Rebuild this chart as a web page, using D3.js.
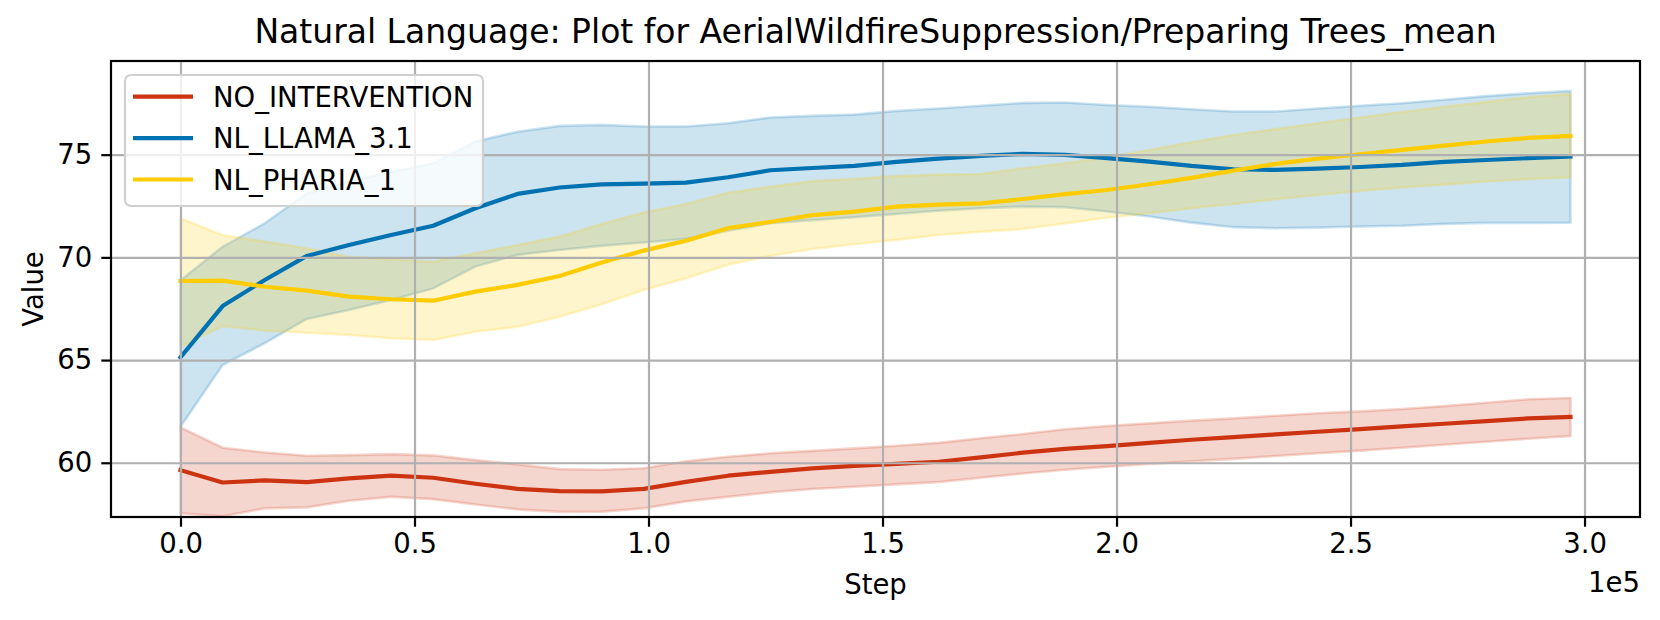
<!DOCTYPE html>
<html>
<head>
<meta charset="utf-8">
<script src="https://cdn.jsdelivr.net/npm/d3@7"></script>
<style>
  body { margin: 0; background: #fff; }
  text { font-family: "DejaVu Sans", sans-serif; fill: #000; }
</style>
</head>
<body>
<div class="canvas"></div>
<script>
// data
const steps = [0, 9000, 18000, 27000, 36000, 45000, 54000, 63000, 72000, 81000, 90000,
  99000, 108000, 117000, 126000, 135000, 144000, 153000, 162000, 171000, 180000,
  189000, 198000, 207000, 216000, 225000, 234000, 243000, 252000, 261000, 270000,
  279000, 288000, 297000]

const seriesNames = ['NO_INTERVENTION', 'NL_LLAMA_3.1', 'NL_PHARIA_1']
const seriesColors = ['#cc3311', '#0072b2', '#ffcc00']

const noIntMean = [59.64, 59.04, 59.14, 59.06, 59.24, 59.37, 59.27, 58.98, 58.73, 58.62, 58.61,
  58.73, 59.07, 59.37, 59.56, 59.73, 59.85, 59.95, 60.05, 60.26, 60.49,
  60.68, 60.81, 60.97, 61.12, 61.25, 61.38, 61.51, 61.64, 61.77, 61.90, 62.03, 62.16, 62.23]
const noIntUpper = [61.72, 60.73, 60.50, 60.34, 60.37, 60.42, 60.36, 60.13, 59.92, 59.69, 59.66,
  59.73, 60.07, 60.29, 60.46, 60.58, 60.70, 60.83, 60.97, 61.19, 61.40,
  61.63, 61.79, 61.92, 62.05, 62.16, 62.29, 62.41, 62.50, 62.62, 62.76, 62.92, 63.09, 63.15]
const noIntLower = [57.54, 57.40, 57.78, 57.83, 58.15, 58.34, 58.23, 57.97, 57.73, 57.61, 57.62,
  57.78, 58.12, 58.34, 58.56, 58.72, 58.83, 58.95, 59.06, 59.27, 59.48,
  59.66, 59.81, 59.94, 60.07, 60.19, 60.33, 60.46, 60.59, 60.73, 60.88, 61.02, 61.17, 61.30]

const llamaMean = [65.13, 67.63, 68.90, 70.07, 70.60, 71.09, 71.54, 72.39, 73.09, 73.40, 73.55,
  73.59, 73.64, 73.90, 74.24, 74.35, 74.45, 74.65, 74.81, 74.94, 75.04,
  74.99, 74.83, 74.66, 74.45, 74.29, 74.26, 74.32, 74.40, 74.50, 74.65, 74.74, 74.83, 74.91]
const llamaUpper = [68.89, 70.52, 71.66, 73.12, 73.69, 74.17, 74.58, 75.64, 76.12, 76.40, 76.45,
  76.37, 76.37, 76.53, 76.81, 76.89, 76.95, 77.13, 77.25, 77.38, 77.52,
  77.54, 77.42, 77.33, 77.21, 77.10, 77.10, 77.25, 77.38, 77.50, 77.67, 77.85, 77.99, 78.10]
const llamaLower = [61.75, 64.76, 65.82, 67.00, 67.44, 67.93, 68.49, 69.55, 70.12, 70.36, 70.56,
  70.72, 70.90, 71.30, 71.66, 71.81, 71.95, 72.11, 72.27, 72.39, 72.47,
  72.44, 72.23, 71.99, 71.69, 71.47, 71.42, 71.45, 71.50, 71.54, 71.63, 71.68, 71.68, 71.69]

const phariaMean = [68.85, 68.87, 68.57, 68.38, 68.09, 67.96, 67.89, 68.33, 68.66, 69.09, 69.75,
  70.33, 70.81, 71.42, 71.72, 72.06, 72.23, 72.47, 72.57, 72.63, 72.84,
  73.08, 73.28, 73.56, 73.87, 74.22, 74.55, 74.81, 75.02, 75.23, 75.44, 75.64, 75.82, 75.91]
const phariaUpper = [71.90, 71.09, 70.77, 70.44, 70.03, 69.91, 69.79, 70.20, 70.60, 71.01, 71.63,
  72.18, 72.60, 73.15, 73.44, 73.71, 73.82, 73.96, 74.03, 74.06, 74.34,
  74.58, 74.88, 75.23, 75.60, 75.96, 76.25, 76.53, 76.81, 77.08, 77.33, 77.57, 77.80, 77.96]
const phariaLower = [65.65, 66.66, 66.43, 66.33, 66.22, 66.06, 65.98, 66.38, 66.62, 67.11, 67.72,
  68.41, 68.98, 69.64, 70.07, 70.41, 70.64, 70.85, 71.09, 71.24, 71.38,
  71.65, 71.93, 72.15, 72.39, 72.60, 72.83, 73.04, 73.23, 73.40, 73.54, 73.69, 73.81, 73.90]

const xTicks = [0, 50000, 100000, 150000, 200000, 250000, 300000]
const yTicks = [60, 65, 70, 75]

const series = [
  { name: seriesNames[0], color: seriesColors[0], mean: noIntMean, upper: noIntUpper, lower: noIntLower },
  { name: seriesNames[1], color: seriesColors[1], mean: llamaMean, upper: llamaUpper, lower: llamaLower },
  { name: seriesNames[2], color: seriesColors[2], mean: phariaMean, upper: phariaUpper, lower: phariaLower },
]

const width = 1660
const height = 620
const margin = { top: 61, bottom: 103, left: 111, right: 20 }
const graphWidth = width - margin.left - margin.right
const graphHeight = height - margin.top - margin.bottom

const svg = d3.select('.canvas')
  .append('svg')
  .attr('width', width)
  .attr('height', height)

const graph = svg.append('g')
  .attr('transform', `translate(${margin.left}, ${margin.top})`)

graph.append('clipPath').attr('id', 'clip')
  .append('rect')
  .attr('width', graphWidth)
  .attr('height', graphHeight)

// x has matplotlib's 5% margins
const x = d3.scaleLinear()
  .domain([-14850, 311850])
  .range([0, graphWidth])

const y = d3.scaleLinear()
  .domain([57.36, 79.56])
  .range([graphHeight, 0])

const plot = graph.append('g').attr('clip-path', 'url(#clip)')

// bands first
const area = d3.area()
  .x((d, i) => x(steps[i]))
  .y0(d => y(d[0]))
  .y1(d => y(d[1]))

series.forEach(s => {
  const pts = s.lower.map((v, i) => [v, s.upper[i]])
  plot.append('path')
    .datum(pts)
    .attr('d', area)
    .attr('fill', s.color)
    .attr('fill-opacity', 0.2)
    .attr('stroke', s.color)
    .attr('stroke-opacity', 0.2)
    .attr('stroke-width', 2.6)
})

// grid above the bands, under the lines
const xAxisGroup = graph.append('g')
  .attr('transform', `translate(0, ${graphHeight})`)
const yAxisGroup = graph.append('g')

const xAxis = d3.axisBottom(x)
  .tickValues(xTicks)
  .tickSize(9.7)
  .tickPadding(7)
  .tickFormat(d => (d / 1e5).toFixed(1))
const yAxis = d3.axisLeft(y)
  .tickValues(yTicks)
  .tickSize(9.7)
  .tickPadding(9)

xAxisGroup.call(xAxis)
yAxisGroup.call(yAxis)

;[xAxisGroup, yAxisGroup].forEach(g => {
  g.select('.domain').remove()
  g.selectAll('line').attr('stroke', '#000').attr('stroke-width', 2.2)
  g.selectAll('text')
    .attr('font-family', 'DejaVu Sans')
    .attr('font-size', 27.5)
    .attr('fill', '#000')
})

xAxisGroup.selectAll('.tick')
  .append('line')
  .attr('y1', 0)
  .attr('y2', -graphHeight)
  .attr('stroke', '#b0b0b0')
  .attr('stroke-width', 2.2)
yAxisGroup.selectAll('.tick')
  .append('line')
  .attr('x1', 0)
  .attr('x2', graphWidth)
  .attr('stroke', '#b0b0b0')
  .attr('stroke-width', 2.2)

// mean lines
const line = d3.line()
  .x((d, i) => x(steps[i]))
  .y(d => y(d))

series.forEach(s => {
  plot.append('path')
    .datum(s.mean)
    .attr('d', line)
    .attr('fill', 'none')
    .attr('stroke', s.color)
    .attr('stroke-width', 4.2)
    .attr('stroke-linejoin', 'round')
    .attr('stroke-linecap', 'square')
})

// spines
graph.append('rect')
  .attr('width', graphWidth)
  .attr('height', graphHeight)
  .attr('fill', 'none')
  .attr('stroke', '#000')
  .attr('stroke-width', 2.2)

// labels
svg.append('text')
  .attr('x', margin.left + graphWidth / 2)
  .attr('y', 43)
  .attr('text-anchor', 'middle')
  .attr('font-size', 33)
  .text('Natural Language: Plot for AerialWildfireSuppression/Preparing Trees_mean')

svg.append('text')
  .attr('x', margin.left + graphWidth / 2)
  .attr('y', 594)
  .attr('text-anchor', 'middle')
  .attr('font-size', 27.5)
  .text('Step')

svg.append('text')
  .attr('transform', `translate(43, ${margin.top + graphHeight / 2}) rotate(-90)`)
  .attr('text-anchor', 'middle')
  .attr('font-size', 27.5)
  .text('Value')

svg.append('text')
  .attr('x', margin.left + graphWidth)
  .attr('y', 592)
  .attr('text-anchor', 'end')
  .attr('font-size', 27.5)
  .text('1e5')

// legend
const legend = graph.append('g')
  .attr('transform', 'translate(14, 14)')

legend.append('rect')
  .attr('width', 358)
  .attr('height', 131)
  .attr('rx', 6)
  .attr('fill', '#fff')
  .attr('fill-opacity', 0.8)
  .attr('stroke', '#d0d0d0')
  .attr('stroke-width', 2.2)

const items = legend.selectAll('.item')
  .data(series)
  .enter()
  .append('g')
  .attr('transform', (d, i) => `translate(0, ${21.7 + i * 41.4})`)

items.append('line')
  .attr('x1', 8)
  .attr('x2', 68)
  .attr('stroke', d => d.color)
  .attr('stroke-width', 4.2)

items.append('text')
  .attr('x', 88)
  .attr('y', 10)
  .attr('font-size', 27.5)
  .text(d => d.name)
</script>
</body>
</html>
